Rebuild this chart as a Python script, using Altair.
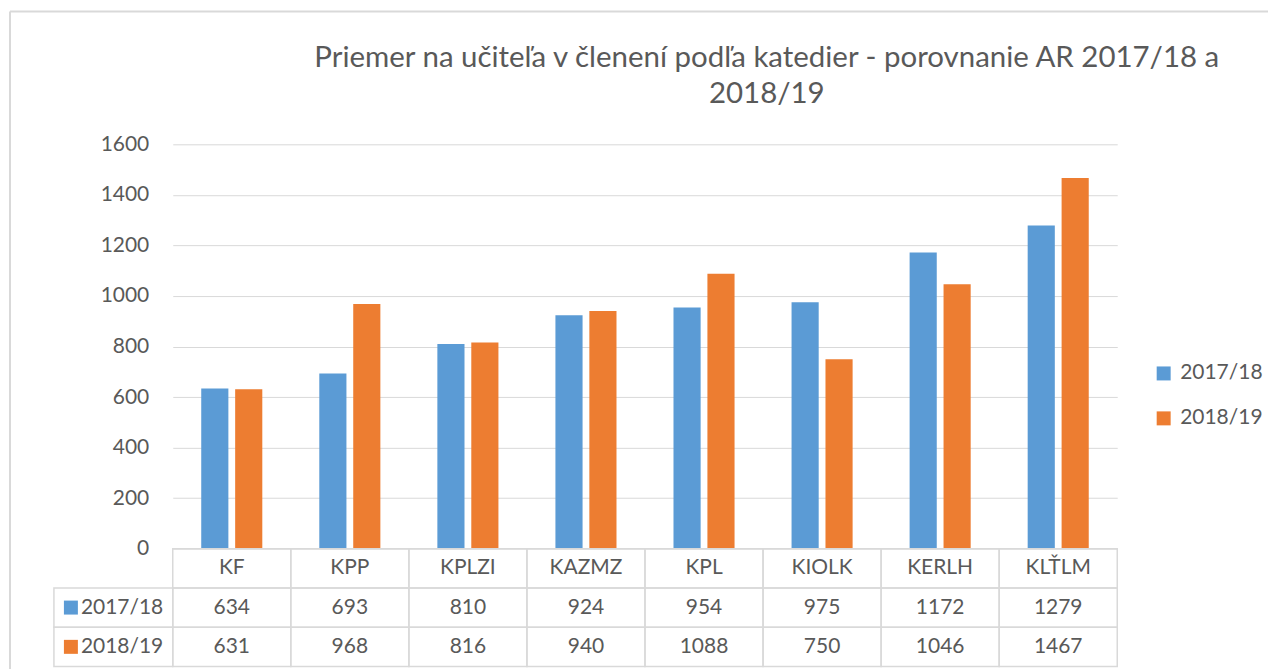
import altair as alt
import pandas as pd

categories = ["KF", "KPP", "KPLZI", "KAZMZ", "KPL", "KIOLK", "KERLH", "KLŤLM"]
series = ["2017/18", "2018/19"]
values_1718 = [634, 693, 810, 924, 954, 975, 1172, 1279]
values_1819 = [631, 968, 816, 940, 1088, 750, 1046, 1467]
y_ticks = [0, 200, 400, 600, 800, 1000, 1200, 1400, 1600]
title_lines = ["Priemer na učiteľa v členení podľa katedier - porovnanie AR 2017/18 a", "2018/19"]
colors = ["#5B9BD5", "#ED7D31"]

FONT = "Lato"
GRAY = "#595959"
GRID = "#d9d9d9"
FS = 21
W, H, TH = 946, 405, 118
LABEL_COL = 119

series_values = {series[0]: values_1718, series[1]: values_1819}

bars_df = pd.DataFrame(
    [{"cat": c, "series": s, "value": series_values[s][i]}
     for i, c in enumerate(categories) for s in series]
)

row_domain = ["hdr"] + series
table_records = []
for i, c in enumerate(categories):
    table_records.append({"cat": c, "row": "hdr", "label": c})
    for s in series:
        table_records.append({"cat": c, "row": s, "label": str(series_values[s][i])})
table_df = pd.DataFrame(table_records)
label_df = pd.DataFrame({"row": series, "series": series, "label": series})
one_df = pd.DataFrame({"k": [0]})

color_scale = alt.Scale(domain=series, range=colors)

top = alt.Chart(bars_df).mark_bar().encode(
    x=alt.X("cat:N", sort=categories,
            scale=alt.Scale(domain=categories, paddingInner=0, paddingOuter=0), axis=None),
    xOffset=alt.XOffset("series:N", sort=series,
                        scale=alt.Scale(domain=series, paddingInner=0.2, paddingOuter=0.84)),
    y=alt.Y("value:Q", scale=alt.Scale(domain=[0, 1600]),
            axis=alt.Axis(values=y_ticks, format="d", title=None, grid=True, gridColor=GRID,
                          gridWidth=1, ticks=False, domain=False, labelPadding=24,
                          labelFontSize=FS, labelColor=GRAY, labelFont=FONT)),
    color=alt.Color("series:N", scale=color_scale,
                    legend=alt.Legend(title=None, orient="none", legendX=982, legendY=219,
                                      symbolType="square", symbolSize=196, labelFontSize=FS,
                                      labelColor=GRAY, labelFont=FONT, rowPadding=23,
                                      symbolStrokeWidth=0, labelOffset=6)),
).properties(
    width=W, height=H,
    title=alt.TitleParams(text=title_lines, fontSize=29.5, font=FONT, color=GRAY,
                          fontWeight="normal", anchor="middle", dx=122, lineHeight=36,
                          offset=24),
)

ys = alt.Y("row:N", sort=row_domain,
           scale=alt.Scale(domain=row_domain, paddingInner=0, paddingOuter=0), axis=None)
xs = alt.X("cat:N", sort=categories,
           scale=alt.Scale(domain=categories, paddingInner=0, paddingOuter=0), axis=None)

cells = alt.Chart(table_df).mark_rect(fill="transparent", stroke=GRID, strokeWidth=1.5).encode(
    x=xs, y=ys)
texts = alt.Chart(table_df).mark_text(font=FONT, fontSize=FS, color=GRAY).encode(
    x=xs, y=ys, text="label:N")
label_cells = alt.Chart(label_df).mark_rect(fill="transparent", stroke=GRID, strokeWidth=1.5).encode(
    x=alt.value(-LABEL_COL), x2=alt.value(0), y=ys)
swatches = alt.Chart(label_df).mark_point(shape="square", filled=True, size=196, opacity=1).encode(
    x=alt.value(-102), y=ys,
    color=alt.Color("series:N", scale=color_scale, legend=None))
label_text = alt.Chart(label_df).mark_text(font=FONT, fontSize=FS, color=GRAY, align="left").encode(
    x=alt.value(-92), y=ys, text="label:N")

# chart-area frame (decoration), relative to the table's origin
frame_top = alt.Chart(one_df).mark_rule(color=GRID, strokeWidth=2).encode(
    x=alt.value(-163), x2=alt.value(1097), y=alt.value(-538))
frame_left = alt.Chart(one_df).mark_rule(color=GRID, strokeWidth=2).encode(
    x=alt.value(-163), y=alt.value(-538), y2=alt.value(121))

table = alt.layer(frame_top, frame_left, cells, texts, label_cells, swatches, label_text).properties(
    width=W, height=TH)

chart = alt.vconcat(top, table, spacing=0, bounds="flush").resolve_scale(
    color="independent"
).properties(
    padding={"left": 0, "top": 1, "right": 0, "bottom": 0}
).configure(font=FONT).configure_view(stroke="transparent")

chart.save("out.html", embed_options={"renderer": "svg", "actions": False})
